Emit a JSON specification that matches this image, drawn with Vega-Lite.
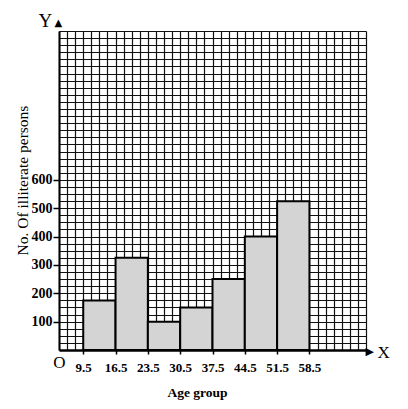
{
  "$schema": "https://vega.github.io/schema/vega-lite/v6.json",
  "width": 307,
  "height": 319,
  "autosize": {"type": "none"},
  "padding": {"left": 59, "top": 31, "right": 42, "bottom": 59},
  "background": "white",
  "config": {"view": {"stroke": null}},
  "data": {"values": [
    {"group": "10-16", "start": 9.5, "end": 16.5, "count": 175},
    {"group": "17-23", "start": 16.5, "end": 23.5, "count": 325},
    {"group": "24-30", "start": 23.5, "end": 30.5, "count": 100},
    {"group": "31-37", "start": 30.5, "end": 37.5, "count": 150},
    {"group": "38-44", "start": 37.5, "end": 44.5, "count": 250},
    {"group": "45-51", "start": 44.5, "end": 51.5, "count": 400},
    {"group": "52-58", "start": 51.5, "end": 58.5, "count": 525}
  ]},
  "resolve": {"axis": {"x": "independent", "y": "independent"}},
  "layer": [
    {
      "mark": {"type": "rect", "fill": "#d4d4d4", "stroke": "#000000", "strokeWidth": 2},
      "encoding": {
        "x": {"field": "start", "type": "quantitative",
          "scale": {"domain": [4.25, 70.75], "nice": false, "zero": false},
          "axis": {"orient": "bottom", "values": [4.25, 6, 7.75, 9.5, 11.25, 13, 14.75, 16.5, 18.25, 20, 21.75, 23.5, 25.25, 27, 28.75, 30.5, 32.25, 34, 35.75, 37.5, 39.25, 41, 42.75, 44.5, 46.25, 48, 49.75, 51.5, 53.25, 55, 56.75, 58.5, 60.25, 62, 63.75, 65.5, 67.25, 69, 70.75],
            "grid": true, "gridColor": "#111111", "gridWidth": 1.2, "gridOpacity": 1,
            "domain": false, "ticks": false,
            "labelExpr": "datum.value == 4.25 ? 'O' : ''", "labelFont": "Liberation Serif", "labelFontSize": 17, "labelColor": "#000000",
            "labelBaseline": "middle", "labelPadding": 12, "labelFlush": false, "labelOverlap": false, "labelBound": false,
            "title": "X", "titleFont": "Liberation Serif", "titleFontSize": 17, "titleFontWeight": "normal", "titleColor": "#000000",
            "titleAnchor": null, "titleAlign": "left", "titleBaseline": "middle", "titleX": 318, "titleY": 2.5}},
        "x2": {"field": "end"},
        "y": {"field": "count", "type": "quantitative",
          "scale": {"domain": [0, 1125], "nice": false},
          "axis": {"orient": "left", "values": [0, 25, 50, 75, 100, 125, 150, 175, 200, 225, 250, 275, 300, 325, 350, 375, 400, 425, 450, 475, 500, 525, 550, 575, 600, 625, 650, 675, 700, 725, 750, 775, 800, 825, 850, 875, 900, 925, 950, 975, 1000, 1025, 1050, 1075, 1100, 1125],
            "grid": true, "gridColor": "#111111", "gridWidth": 1.2, "gridOpacity": 1,
            "domain": false, "ticks": false, "labels": false,
            "title": "Y", "titleFont": "Liberation Serif", "titleFontSize": 19, "titleFontWeight": "normal", "titleColor": "#000000",
            "titleAngle": 0, "titleAnchor": null, "titleAlign": "left", "titleBaseline": "middle", "titleX": -21, "titleY": -11}},
        "y2": {"datum": 0}
      }
    },
    {
      "mark": {"type": "rect", "fillOpacity": 0, "strokeOpacity": 0},
      "encoding": {
        "x": {"field": "start", "type": "quantitative",
          "axis": {"orient": "bottom", "zindex": 1, "values": [9.5, 16.5, 23.5, 30.5, 37.5, 44.5, 51.5, 58.5], "format": ".1f",
            "grid": false, "domain": true, "domainColor": "#000000", "domainWidth": 2.5,
            "ticks": true, "tickColor": "#000000", "tickWidth": 1.5, "tickSize": 4,
            "labelFont": "Liberation Serif", "labelFontWeight": "bold", "labelFontSize": 13, "labelColor": "#000000",
            "labelPadding": 7, "labelFlush": false, "labelOverlap": false, "labelBound": false,
            "title": "Age group", "titleFont": "Liberation Serif", "titleFontSize": 13.5, "titleFontWeight": "bold", "titleColor": "#000000",
            "titleAnchor": null, "titleAlign": "center", "titleBaseline": "middle", "titleX": 138, "titleY": 42}},
        "x2": {"field": "end"},
        "y": {"field": "count", "type": "quantitative",
          "axis": {"orient": "left", "zindex": 1, "values": [100, 200, 300, 400, 500, 600],
            "grid": false, "domain": true, "domainColor": "#000000", "domainWidth": 2,
            "ticks": true, "tickColor": "#000000", "tickWidth": 1.5, "tickSize": 6,
            "labelFont": "Liberation Serif", "labelFontWeight": "bold", "labelFontSize": 14, "labelColor": "#000000",
            "labelPadding": 1,
            "title": "No. Of illiterate persons", "titleFont": "Liberation Serif", "titleFontSize": 15.5, "titleFontWeight": "normal", "titleColor": "#000000",
            "titleAnchor": null, "titleAlign": "center", "titleBaseline": "middle", "titleX": -37, "titleY": 149}},
        "y2": {"datum": 0}
      }
    },
    {
      "mark": {"type": "rect", "fillOpacity": 0, "strokeOpacity": 0},
      "encoding": {
        "x": {"field": "start", "type": "quantitative",
          "axis": {"orient": "bottom", "grid": false, "domain": false, "ticks": false, "labels": false,
            "title": "▶", "titleFont": "DejaVu Sans", "titleFontSize": 11, "titleFontWeight": "normal", "titleColor": "#000000",
            "titleAnchor": null, "titleAlign": "left", "titleBaseline": "middle", "titleX": 306, "titleY": 1}},
        "x2": {"field": "end"},
        "y": {"field": "count", "type": "quantitative",
          "axis": {"orient": "left", "grid": false, "domain": false, "ticks": false, "labels": false,
            "title": "▲", "titleFont": "DejaVu Sans", "titleFontSize": 10, "titleFontWeight": "normal", "titleColor": "#000000",
            "titleAngle": 0, "titleAnchor": null, "titleAlign": "left", "titleBaseline": "middle", "titleX": -5, "titleY": -9}},
        "y2": {"datum": 0}
      }
    }
  ]
}
